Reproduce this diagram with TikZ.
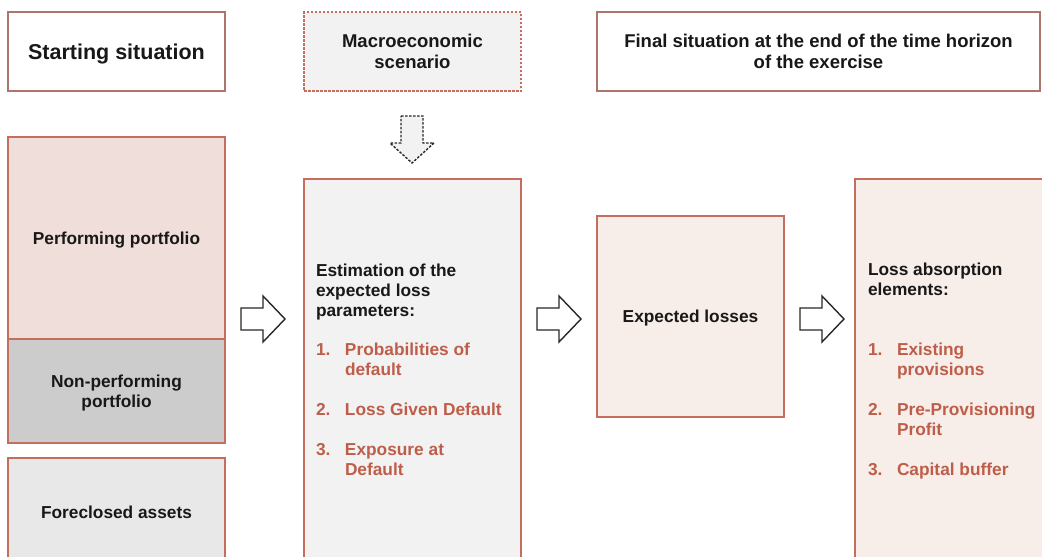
\documentclass[tikz,border=0pt]{standalone}
\usepackage{fontspec}
\setmainfont{Liberation Sans}
\usetikzlibrary{calc}
\definecolor{bord}{RGB}{196,110,94}
\definecolor{tbord}{RGB}{172,118,108}
\definecolor{redtxt}{RGB}{190,94,74}
\definecolor{pinkfill}{RGB}{240,222,218}
\definecolor{npfill}{RGB}{204,204,204}
\definecolor{fcfill}{RGB}{232,232,232}
\definecolor{grayfill}{RGB}{242,242,242}
\definecolor{lpink}{RGB}{247,237,233}
\definecolor{txt}{RGB}{24,24,24}
\definecolor{arrowline}{RGB}{40,40,40}
\begin{document}
\begin{tikzpicture}[x=1pt,y=-1pt,
  box/.style={draw=bord, line width=1.2pt, anchor=north west, inner sep=0pt, outer sep=0pt, text=txt, align=center, text depth=0pt},
  tbox/.style={box, draw=tbord},
  bodyfont/.style={font=\fontsize{17.3}{20}\selectfont\bfseries},
  headfont/.style={font=\fontsize{18.5}{21.5}\selectfont\bfseries},
  plain/.style={inner sep=0pt, outer sep=0pt, anchor=base west, text=txt},
  barrow/.style={draw=arrowline, line width=1.4pt, fill=white, line join=miter},
  darrow/.style={draw=arrowline, line width=1.4pt, fill=grayfill, dash pattern=on 2.5pt off 1.5pt}
]
\useasboundingbox (0,0) rectangle (1042,557);
\clip (0,0) rectangle (1042,557);
\fill[white] (0,0) rectangle (1042,557);

% top row
\node[tbox, minimum width=217pt, minimum height=79pt, font=\fontsize{21.5}{24}\selectfont\bfseries] (start) at (8,12) {Starting situation};
\node[box, fill=grayfill, minimum width=217pt, minimum height=79pt, headfont, dash pattern=on 2.5pt off 1.5pt] (macro) at (304,12) {Macroeconomic\\scenario};
\node[tbox, minimum width=443pt, minimum height=79pt, headfont] (final) at (597,12) {Final situation at the end of the time horizon\\of the exercise};

% left column
\node[box, fill=pinkfill, minimum width=217pt, minimum height=202pt, bodyfont] (perf) at (8,137) {Performing portfolio};
\node[box, fill=npfill, minimum width=217pt, minimum height=104pt, bodyfont] (np) at (8,339) {Non-performing\\portfolio};
\node[box, fill=fcfill, minimum width=217pt, minimum height=160pt] (fc) at (8,458) {};
\node[plain, anchor=center, bodyfont, text depth=0pt] (fctxt) at (116.5,512) {Foreclosed assets};

% estimation box
\node[box, fill=grayfill, minimum width=217pt, minimum height=420pt] (est) at (304,179) {};
\node[plain, bodyfont] (esthead) at (316,276) {\begin{tabular}[t]{@{}l@{}}Estimation of the\\expected loss\\parameters:\end{tabular}};
\node[plain, bodyfont, text=redtxt] (estlist) at (316,355) {\begin{tabular}[t]{@{}p{29pt}@{}l@{}}1.&Probabilities of\\&default\\[20pt]2.&Loss Given Default\\[20pt]3.&Exposure at\\&Default\end{tabular}};

% expected losses
\node[box, fill=lpink, minimum width=187pt, minimum height=201pt, bodyfont] (exp) at (597,216) {Expected losses};

% loss absorption
\node[box, fill=lpink, minimum width=250pt, minimum height=420pt] (loss) at (855,179) {};
\node[plain, bodyfont] (losshead) at (868,275) {\begin{tabular}[t]{@{}l@{}}Loss absorption\\elements:\end{tabular}};
\node[plain, bodyfont, text=redtxt] (losslist) at (868,355) {\begin{tabular}[t]{@{}p{29pt}@{}l@{}}1.&Existing\\&provisions\\[20pt]2.&Pre-Provisioning\\&Profit\\[20pt]3.&Capital buffer\end{tabular}};

% block arrows
\foreach \x in {241,537,800} {
  \draw[barrow] (\x,308) -- (\x+22,308) -- (\x+22,296) -- (\x+44,319) -- (\x+22,342) -- (\x+22,330) -- (\x,330) -- cycle;
}
\draw[darrow] (401,116) -- (423,116) -- (423,143) -- (434,143) -- (412,163) -- (390,143) -- (401,143) -- cycle;
\end{tikzpicture}
\end{document}
